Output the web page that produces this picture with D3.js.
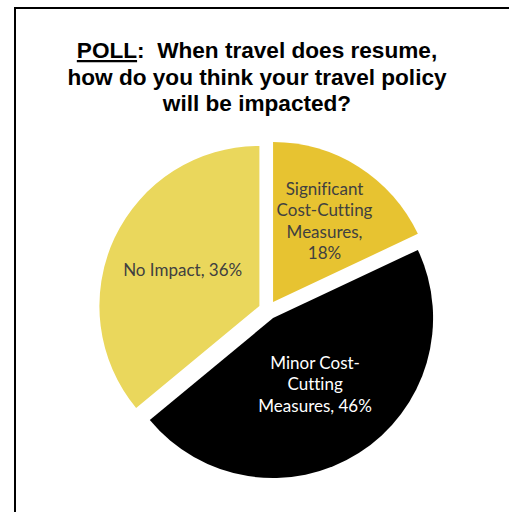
<!DOCTYPE html>
<html>
<head>
<meta charset="utf-8">
<script src="https://cdn.jsdelivr.net/npm/d3@7"></script>
<style>
  html, body { margin: 0; padding: 0; background: #fff; }
  svg { display: block; }
</style>
</head>
<body>
<div id="chart"></div>
<script>
// Poll responses, in slice order clockwise from 12 o'clock
const categories = ["Significant Cost-Cutting Measures", "Minor Cost-Cutting Measures", "No Impact"];
const values = [18, 46, 36];
// Data label lines for each slice
const labelLines = [
  ["Significant", "Cost-Cutting", "Measures,", "18%"],
  ["Minor Cost-", "Cutting", "Measures, 46%"],
  ["No Impact, 36%"]
];
const titleLines = ["POLL:  When travel does resume,", "how do you think your travel policy", "will be impacted?"];

const sliceColors = ["#E7C331", "#000000", "#EAD75C"];
const labelColors = ["#404040", "#FFFFFF", "#404040"];
// distance of each label from the slice tip, as a share of the radius
const labelRadiusFrac = [0.6, 0.49, 0.53];

const W = 514, H = 512;
const svg = d3.select("#chart").append("svg")
  .attr("width", W).attr("height", H);

// frame (top and left edges)
svg.append("path")
  .attr("d", "M15,512 L15,8 L509,8")
  .attr("fill", "none")
  .attr("stroke", "#000")
  .attr("stroke-width", 2);

// title
const title = svg.append("text")
  .attr("text-anchor", "middle")
  .attr("font-family", "'Liberation Sans', Arial, sans-serif")
  .attr("font-weight", "bold")
  .attr("font-size", 22.6)
  .attr("fill", "#000")
  .style("white-space", "pre");
const titleX = 257, titleY = 58, titleLH = 26.5;
titleLines.forEach((line, i) => {
  const t = title.append("tspan").attr("x", titleX).attr("y", titleY + i * titleLH);
  if (i === 0) {
    const word = line.split(":")[0];
    t.append("tspan").style("text-decoration", "underline").text(word);
    t.append("tspan").text(line.slice(word.length));
  } else {
    t.text(line);
  }
});

// pie
const cx = 268, cy = 310, radius = 160, explode = 9.5;
const pie = d3.pie().sort(null).value(d => d)(values);
const arc = d3.arc().innerRadius(0).outerRadius(radius);

const g = svg.append("g").attr("transform", `translate(${cx},${cy})`);

const slices = g.selectAll("g.slice").data(pie).join("g")
  .attr("class", "slice")
  .attr("transform", d => {
    const a = (d.startAngle + d.endAngle) / 2;
    return `translate(${Math.sin(a) * explode},${-Math.cos(a) * explode})`;
  });

slices.append("path")
  .attr("d", arc)
  .attr("fill", (d, i) => sliceColors[i]);

slices.each(function(d, i) {
  const a = (d.startAngle + d.endAngle) / 2;
  const lr = radius * labelRadiusFrac[i];
  const lx = Math.sin(a) * lr, ly = -Math.cos(a) * lr;
  const lines = labelLines[i];
  const lh = 21.3;
  const text = d3.select(this).append("text")
    .attr("text-anchor", "middle")
    .attr("font-family", "Lato, 'Open Sans', sans-serif")
    .attr("font-size", 17)
    .attr("fill", labelColors[i])
    .style("font-variant-ligatures", "none");
  lines.forEach((line, k) => {
    text.append("tspan")
      .attr("x", lx)
      .attr("y", ly + (k - (lines.length - 1) / 2) * lh + 6)
      .text(line);
  });
});
</script>
</body>
</html>
